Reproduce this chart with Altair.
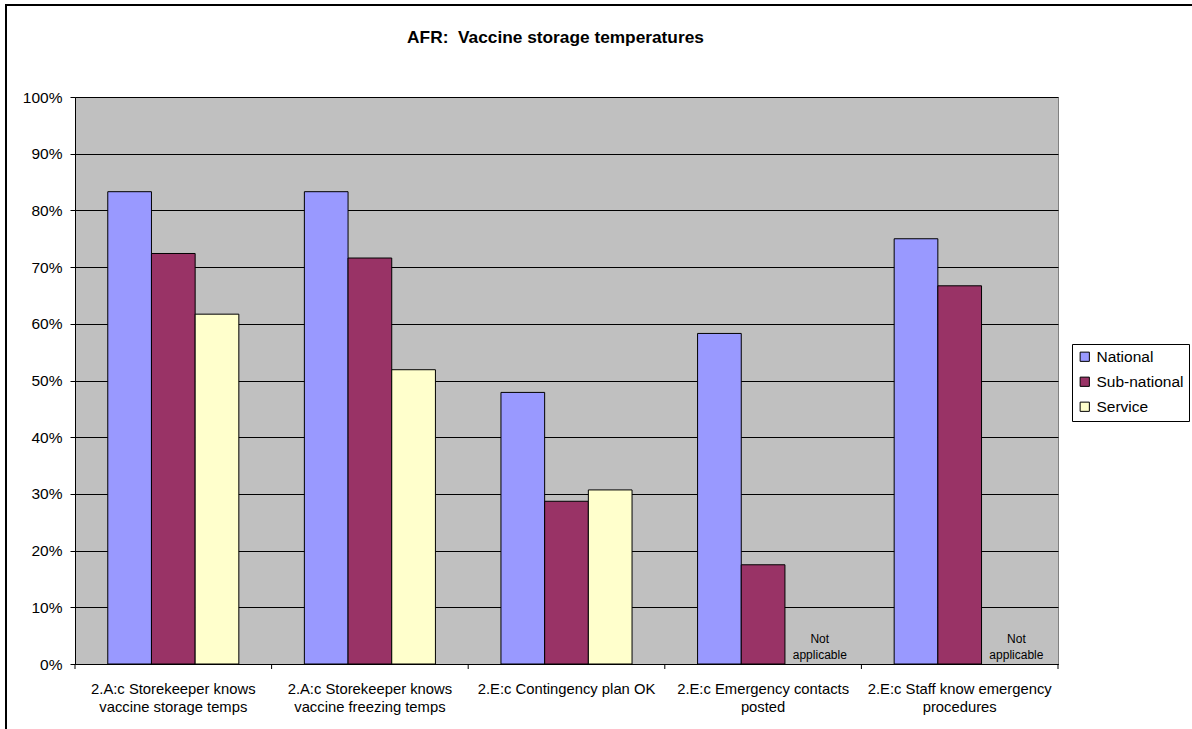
import altair as alt
import pandas as pd

categories = [
    "2.A:c Storekeeper knows|vaccine storage temps",
    "2.A:c Storekeeper knows|vaccine freezing temps",
    "2.E:c Contingency plan OK",
    "2.E:c Emergency contacts|posted",
    "2.E:c Staff know emergency|procedures",
]
series_names = ["National", "Sub-national", "Service"]
series_colors = ["#9999FF", "#993366", "#FFFFCC"]
national = [83.3, 83.3, 47.9, 58.3, 75.0]
sub_national = [72.4, 71.6, 28.7, 17.5, 66.7]
service = [61.7, 51.9, 30.7, None, None]
na_categories = ["2.E:c Emergency contacts|posted", "2.E:c Staff know emergency|procedures"]
na_label = "Not\napplicable"
na_level = 4.4
y_ticks = [0, 10, 20, 30, 40, 50, 60, 70, 80, 90, 100]
title_text = "AFR:\u00a0 Vaccine storage temperatures"

rows = []
for s, vals in zip(series_names, [national, sub_national, service]):
    for c, v in zip(categories, vals):
        if v is not None:
            rows.append({"cat": c, "series": s, "value": v / 100})
bars_df = pd.DataFrame(rows)
na_df = pd.DataFrame({"cat": na_categories, "series": ["Service"] * len(na_categories),
                      "value": [na_level / 100] * len(na_categories), "label": [na_label] * len(na_categories)})
cat_df = pd.DataFrame({"cat": categories})
last_df = pd.DataFrame({"cat": categories[-1:]})
frame_df = pd.DataFrame({"k": [0]})

W, H = 983, 567
PI, PO = 1 / 3, 1 / 6
STEP = W / len(categories)

FONT = "Liberation Sans, Arial"

x_scale = alt.Scale(domain=categories, paddingInner=PI, paddingOuter=PO)
xoff_scale = alt.Scale(domain=series_names, paddingInner=0, paddingOuter=0)
y_scale = alt.Scale(domain=[0, 1], nice=False)

x_enc = alt.X("cat:N", scale=x_scale, sort=categories, title=None,
              axis=alt.Axis(labelExpr="split(datum.label, '|')", labelAngle=0, ticks=False,
                            labelFontSize=14.8, labelLineHeight=18.5, labelPadding=17,
                            labelColor="black", domainColor="black", labelFont=FONT,
                            labelLimit=400))
y_enc = alt.Y("value:Q", scale=y_scale, title=None,
              axis=alt.Axis(values=[v / 100 for v in y_ticks], format=".0%", tickSize=5,
                            tickColor="black", domainColor="black", gridColor="black",
                            gridOpacity=1, gridWidth=1, labelFontSize=15.5, labelPadding=8,
                            labelColor="black", labelFont=FONT))

frame = alt.Chart(frame_df).mark_rect(fillOpacity=0, stroke="black", strokeWidth=2).encode(
    x=alt.value(-69), x2=alt.value(2000), y=alt.value(-92), y2=alt.value(2000))

bars = alt.Chart(bars_df).mark_bar(stroke="black", strokeWidth=1).encode(
    x=x_enc,
    xOffset=alt.XOffset("series:N", scale=xoff_scale, sort=series_names),
    y=y_enc,
    color=alt.Color("series:N", scale=alt.Scale(domain=series_names, range=series_colors),
                    sort=series_names,
                    legend=alt.Legend(title=None, orient="none", legendX=997, legendY=247,
                                      symbolType="square", symbolSize=85,
                                      symbolStrokeColor="black", symbolStrokeWidth=1,
                                      labelFontSize=15.5, labelFont=FONT, labelColor="black",
                                      strokeColor="black", fillColor="white", padding=5,
                                      rowPadding=8, labelOffset=4)),
)

na_text = alt.Chart(na_df).mark_text(fontSize=12, lineBreak="\n", lineHeight=16,
                                     baseline="middle", align="center", dx=13,
                                     font=FONT, color="black").encode(
    x=alt.X("cat:N", scale=x_scale, sort=categories),
    xOffset=alt.XOffset("series:N", scale=xoff_scale, sort=series_names),
    y=alt.Y("value:Q", scale=y_scale),
    text="label:N",
)

ticks = alt.Chart(cat_df).mark_rule(color="black", strokeWidth=1, xOffset=-PO * STEP).encode(
    x=alt.X("cat:N", scale=x_scale, sort=categories, bandPosition=0),
    y=alt.value(H), y2=alt.value(H + 5))
last_tick = alt.Chart(last_df).mark_rule(color="black", strokeWidth=1, xOffset=PO * STEP).encode(
    x=alt.X("cat:N", scale=x_scale, sort=categories, bandPosition=1),
    y=alt.value(H), y2=alt.value(H + 5))

chart = alt.layer(frame, bars, na_text, ticks, last_tick).properties(
    width=W, height=H,
    background="white",
    title=alt.TitleParams(title_text, fontSize=17.3, fontWeight="bold", font=FONT,
                          anchor="middle", dx=-11, offset=-42, color="black"),
    autosize=alt.AutoSizeParams(type="none"),
    padding={"left": 75, "top": 97, "right": 134, "bottom": 65},
).configure_view(fill="#C0C0C0", stroke="#808080", strokeWidth=1)

chart.save("out.html", embed_options={"renderer": "svg", "actions": False})
